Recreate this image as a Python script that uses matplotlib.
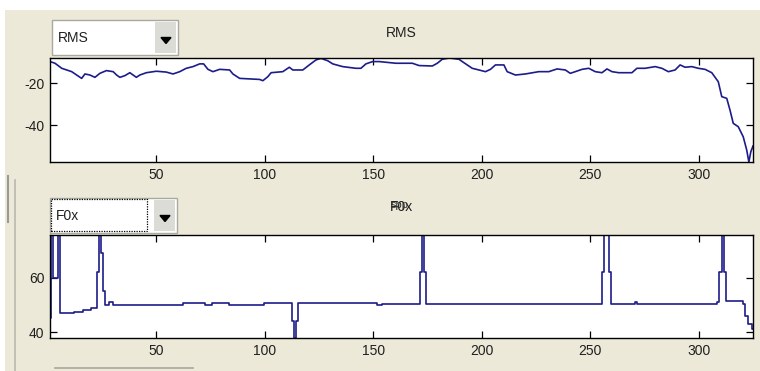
import numpy as np
import matplotlib
matplotlib.use("Agg")
import matplotlib.pyplot as plt
from matplotlib.patches import Rectangle, Polygon
from matplotlib.lines import Line2D

plt.rcParams['font.family'] = ['Liberation Sans', 'DejaVu Sans']
plt.rcParams['axes.unicode_minus'] = False

# RMS level per frame (dB), breakpoints of the frame track
rms_frames = [1, 3.3, 6.4, 8.7, 11, 14, 15.6, 17.1, 19.4, 21.7, 24, 27, 30.1, 31.7,
              33.2, 35.5, 37.8, 39.3, 40.8, 42.4, 45.4, 50, 54.6, 57.7, 60.8, 63.8,
              66.9, 70, 71.8, 73.8, 76.1, 79.2, 83.8, 85.3, 88.4, 97.6, 99.1, 101.4,
              102.9, 108.3, 111.3, 112.9, 117.5, 120.5, 123.6, 125.9, 129, 131.3,
              135.9, 142, 144.3, 146.6, 149.7, 152.7, 160.4, 168, 171.1, 177.2, 179.5,
              181.8, 185, 189.5, 191, 193.3, 195.6, 198.7, 201.7, 204, 206.3, 210.2,
              211.7, 215.5, 220.1, 226.3, 230.9, 234.7, 238.5, 240.8, 243.1, 246.2,
              249.3, 252.3, 255.4, 257.7, 260, 263.1, 269.2, 271.5, 275.3, 279.9, 283,
              286, 289.1, 291.4, 293.7, 296.8, 299.8, 302.9, 306, 309, 310.6, 312.9,
              314.4, 315.9, 318.2, 320.5, 322.1, 323.1, 324, 325]
rms_values = [-9.8, -10.6, -13.0, -13.8, -14.6, -16.7, -17.8, -15.7, -16.2, -17.3,
              -15.4, -14.1, -14.6, -16.2, -17.3, -16.5, -15.1, -16.2, -17.3, -16.2,
              -15.1, -14.4, -14.8, -15.7, -14.6, -13.0, -12.2, -10.9, -10.9, -13.5,
              -14.6, -13.5, -13.8, -15.7, -17.8, -18.3, -18.9, -17.0, -15.1, -14.6,
              -12.5, -13.8, -13.8, -11.4, -9.0, -8.3, -9.4, -10.9, -12.2, -13.0,
              -13.0, -10.9, -9.8, -9.8, -10.6, -10.6, -11.7, -11.9, -10.6, -8.7,
              -8.1, -8.7, -9.8, -11.4, -13.0, -13.8, -14.6, -13.5, -11.4, -11.4,
              -14.6, -16.2, -15.7, -14.6, -14.6, -13.3, -13.8, -15.4, -14.6, -13.5,
              -13.0, -14.6, -15.1, -13.3, -14.6, -15.1, -15.1, -13.0, -13.0, -12.2,
              -13.0, -14.6, -13.8, -11.4, -12.5, -12.2, -13.0, -13.5, -15.1, -19.4,
              -26.5, -27.3, -32.9, -39.2, -40.8, -45.6, -51.9, -57.6, -52.7, -50.0]

# F0 estimate per frame
f0_frames = [1, 2, 3, 4, 5, 6, 10, 14, 18, 22, 23, 24, 25, 26, 27, 29, 31, 62, 63,
             72, 73, 75, 76, 83, 84, 99, 100, 112, 113, 114, 115, 116, 150, 153, 155,
             171, 172, 173, 174, 175, 255, 256, 257, 258, 259, 260, 270, 271, 272,
             308, 309, 310, 311, 312, 313, 320, 321, 322, 323, 324, 325]
f0_values = [45, 75.8, 60, 60, 75.8, 47, 47, 47.5, 48.3, 49, 62, 75.8, 69, 55, 50,
             51, 50, 50, 50.6, 50.6, 49.8, 49.8, 50.6, 50.6, 49.8, 49.8, 50.6, 50.6,
             44, 37.8, 44, 50.6, 50.6, 49.8, 50.4, 50.4, 62, 75.8, 62, 50.2, 50.2, 62,
             75.8, 75.8, 62, 50.2, 50.2, 51, 50.2, 50.2, 51.2, 62, 75.8, 62, 51.5,
             51.5, 50.5, 46, 43, 43, 41]

x_ticks = [50, 100, 150, 200, 250, 300]
rms_yticks = [-40, -20]
f0_yticks = [40, 60]

W, H = 760, 371
BG = '#ECE9D8'
LINE = '#1c1c8a'

fig = plt.figure(figsize=(W / 100, H / 100), dpi=100)
fig.patch.set_facecolor('white')


def box(x0, y0, x1, y1):
    """pixel box (top-left origin) -> figure fraction rect"""
    return [x0 / W, 1 - y1 / H, (x1 - x0) / W, (y1 - y0) / H]


def rect(x0, y0, x1, y1, **kw):
    l, b, w, h = box(x0, y0, x1, y1)
    fig.patches.append(Rectangle((l, b), w, h, transform=fig.transFigure, **kw))


def vline(x, y0, y1, **kw):
    fig.lines.append(Line2D([x / W, x / W], [1 - y0 / H, 1 - y1 / H],
                            transform=fig.transFigure, **kw))


# window background, kept beneath the axes
rect(5, 10, W, H, facecolor=BG, edgecolor='none', zorder=-10)
vline(15, 180, H, color='#b8b8b0', lw=1.2, zorder=-5)
vline(8, 176, 222, color='#9a9a94', lw=1.5, zorder=-5)
fig.lines.append(Line2D([55 / W, 193 / W], [1 - 368 / H, 1 - 368 / H],
                        transform=fig.transFigure, color='#a8a8a0', lw=1.2, zorder=-5))


def popup(x0, y0, x1, y1, label, focused=False):
    rect(x0, y0, x1, y1, facecolor='white', edgecolor='#a9a9a0', lw=1.0, zorder=2)
    rect(x1 - 23, y0 + 2, x1 - 2, y1 - 2, facecolor='#dcdcd6', edgecolor='none', zorder=3)
    cx, cy = x1 - 12, (y0 + y1) / 2 + 3
    tri = [((cx - 5) / W, 1 - (cy - 3) / H), ((cx + 5) / W, 1 - (cy - 3) / H),
           (cx / W, 1 - (cy + 3) / H)]
    fig.patches.append(Polygon(tri, closed=True, transform=fig.transFigure,
                               facecolor='black', edgecolor='black', zorder=4))
    if focused:
        rect(x0 + 1, y0 + 1, x1 - 30, y1 - 2, facecolor='none', edgecolor='black',
             lw=0.9, ls=(0, (1, 1)), zorder=4)
    fig.text((x0 + 6) / W, 1 - ((y0 + y1) / 2) / H, label, fontsize=10,
             ha='left', va='center', color='#202020', zorder=5)


popup(52, 20, 178, 55, 'RMS')
popup(50, 198, 177, 233, 'F0x', focused=True)

ax1 = fig.add_axes(box(50, 58, 753, 162), zorder=1)
ax2 = fig.add_axes(box(50, 235, 753, 338), zorder=1)

ax1.plot(rms_frames, rms_values, color=LINE, lw=1.2)
# F0 holds its value for each frame, so draw it as steps
ax2.step(f0_frames, f0_values, where='mid', color=LINE, lw=1.2)

for ax, xs, ys, yt in [(ax1, rms_frames, rms_values, rms_yticks),
                       (ax2, f0_frames, f0_values, f0_yticks)]:
    ax.set_xlim(min(xs), max(xs))
    ax.set_ylim(min(ys), max(ys))
    ax.set_xticks(x_ticks)
    ax.set_yticks(yt)
    ax.tick_params(direction='in', top=True, right=True, length=5, width=0.9,
                   labelsize=10, pad=4, colors='black', labelcolor='#202020')
    for s in ax.spines.values():
        s.set_linewidth(1.0)
    ax.set_facecolor('white')

ax1.set_title('RMS', fontsize=10, pad=15, color='#202020')
ax2.set_title('F0x', fontsize=10, pad=17, color='#202020')
# stale title text left under the F0x heading
fig.text(400 / W, 1 - 205 / H, 'spp', fontsize=8, ha='center', va='center',
         color='#303030')

fig.savefig('out.png', dpi=100, facecolor=fig.get_facecolor())
